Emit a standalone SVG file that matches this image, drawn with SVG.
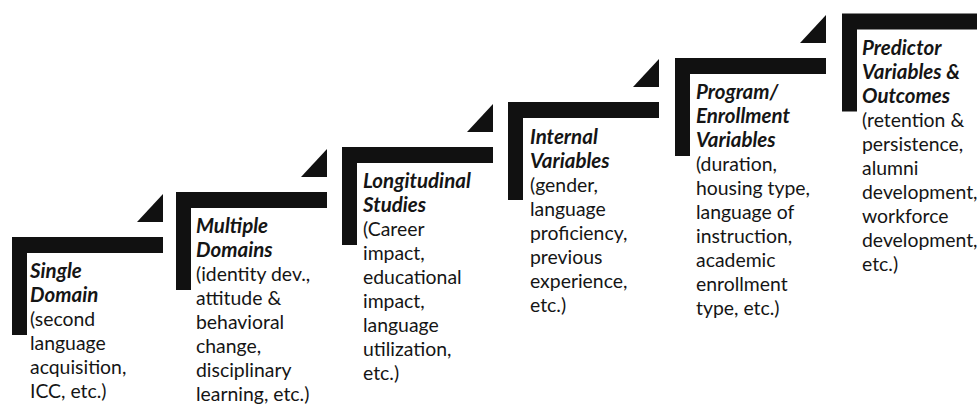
<svg xmlns="http://www.w3.org/2000/svg" width="977" height="406" viewBox="0 0 977 406">
<style>
.bar{fill:#111}
.t{font-family:Lato,"Liberation Sans",sans-serif;font-size:19.4px;fill:#151515}
.h{font-weight:bold;font-style:italic;font-size:20.5px}
</style>
<defs>
<path id="frame" d="M0 0H151V16H15V98H0Z"/>
<polygon id="tri" points="125,-15 151,-43 151,-15"/>
</defs>
<rect width="977" height="406" fill="#fff"/>
<g id="step1" transform="translate(12,237)">
<use href="#frame" class="bar"/><use href="#tri" class="bar"/>
<text class="t"><tspan class="h" x="18" y="41">Single</tspan><tspan class="h" x="18" dy="24">Domain</tspan><tspan x="18" dy="24">(second</tspan><tspan x="18" dy="24">language</tspan><tspan x="18" dy="24">acquisition,</tspan><tspan x="18" dy="24">ICC, etc.)</tspan></text>
</g>
<g id="step2" transform="translate(176,192)">
<use href="#frame" class="bar"/><use href="#tri" class="bar"/>
<text class="t"><tspan class="h" x="20" y="41">Multiple</tspan><tspan class="h" x="20" dy="24">Domains</tspan><tspan x="20" dy="24">(identity dev.,</tspan><tspan x="20" dy="24">attitude &amp;</tspan><tspan x="20" dy="24">behavioral</tspan><tspan x="20" dy="24">change,</tspan><tspan x="20" dy="24">disciplinary</tspan><tspan x="20" dy="24">learning, etc.)</tspan></text>
</g>
<g id="step3" transform="translate(342,147)">
<use href="#frame" class="bar"/><use href="#tri" class="bar"/>
<text class="t"><tspan class="h" x="21" y="41">Longitudinal</tspan><tspan class="h" x="21" dy="24">Studies</tspan><tspan x="21" dy="24">(Career</tspan><tspan x="21" dy="24">impact,</tspan><tspan x="21" dy="24">educational</tspan><tspan x="21" dy="24">impact,</tspan><tspan x="21" dy="24">language</tspan><tspan x="21" dy="24">utilization,</tspan><tspan x="21" dy="24">etc.)</tspan></text>
</g>
<g id="step4" transform="translate(508,102)">
<use href="#frame" class="bar"/><use href="#tri" class="bar"/>
<text class="t"><tspan class="h" x="22" y="42">Internal</tspan><tspan class="h" x="22" dy="24">Variables</tspan><tspan x="22" dy="24">(gender,</tspan><tspan x="22" dy="24">language</tspan><tspan x="22" dy="24">proficiency,</tspan><tspan x="22" dy="24">previous</tspan><tspan x="22" dy="24">experience,</tspan><tspan x="22" dy="24">etc.)</tspan></text>
</g>
<g id="step5" transform="translate(675,58)">
<use href="#frame" class="bar"/><use href="#tri" class="bar"/>
<text class="t"><tspan class="h" x="21" y="41">Program/</tspan><tspan class="h" x="21" dy="24">Enrollment</tspan><tspan class="h" x="21" dy="24">Variables</tspan><tspan x="21" dy="24">(duration,</tspan><tspan x="21" dy="24">housing type,</tspan><tspan x="21" dy="24">language of</tspan><tspan x="21" dy="24">instruction,</tspan><tspan x="21" dy="24">academic</tspan><tspan x="21" dy="24">enrollment</tspan><tspan x="21" dy="24">type, etc.)</tspan></text>
</g>
<g id="step6" transform="translate(842,13.5)">
<use href="#frame" class="bar"/>
<text class="t"><tspan class="h" x="20" y="41.5">Predictor</tspan><tspan class="h" x="20" dy="24">Variables &amp;</tspan><tspan class="h" x="20" dy="24">Outcomes</tspan><tspan x="20" dy="24">(retention &amp;</tspan><tspan x="20" dy="24">persistence,</tspan><tspan x="20" dy="24">alumni</tspan><tspan x="20" dy="24">development,</tspan><tspan x="20" dy="24">workforce</tspan><tspan x="20" dy="24">development,</tspan><tspan x="20" dy="24">etc.)</tspan></text>
</g>
</svg>
